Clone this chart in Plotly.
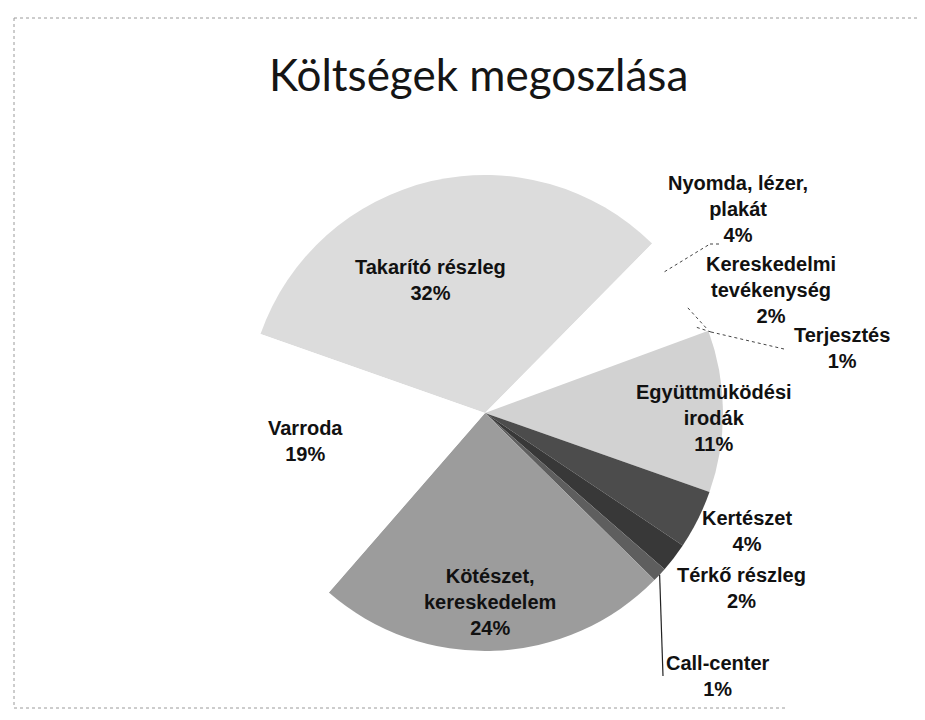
import math
import plotly.graph_objects as go

# ---- data ----
categories = ["Takarító részleg", "Nyomda, lézer, plakát", "Kereskedelmi tevékenység",
              "Terjesztés", "Együttműködési irodák", "Kertészet", "Térkő részleg",
              "Call-center", "Kötészet, kereskedelem", "Varroda"]
label_text = ["Takarító részleg", "Nyomda, lézer,<br>plakát", "Kereskedelmi<br>tevékenység",
              "Terjesztés", "Együttmüködési<br>irodák", "Kertészet", "Térkő részleg",
              "Call-center", "Kötészet,<br>kereskedelem", "Varroda"]
percents = [32, 4, 2, 1, 11, 4, 2, 1, 24, 19]
colors = ["#dcdcdc", "#ffffff", "#ffffff", "#ffffff", "#d2d2d2",
          "#4c4c4c", "#383838", "#5e5e5e", "#9c9c9c", "#ffffff"]
title_text = "Költségek megoszlása"

# ---- layout constants ----
W, H = 925, 720
CX, CY, R = 477, 405, 238
ROTATION = -70.6
# label centres (px)
label_pos = [(422, 272), (730, 201), (763, 282), (834, 340), (706, 410),
             (739, 523), (733, 580), (710, 668), (482, 594), (297, 433)]

def px(x, y):
    return x / W, 1 - y / H

fig = go.Figure(go.Pie(
    labels=categories, values=percents, sort=False, direction="clockwise",
    rotation=ROTATION, textinfo="none", hoverinfo="label+percent",
    marker=dict(colors=colors, line=dict(width=0)),
    domain=dict(x=[(CX - R) / W, (CX + R) / W], y=[(H - CY - R) / H, (H - CY + R) / H]),
    showlegend=False,
))

annotations = []
for txt, p, (lx, ly) in zip(label_text, percents, label_pos):
    ax, ay = px(lx, ly)
    annotations.append(dict(
        x=ax, y=ay, xref="paper", yref="paper", showarrow=False,
        text=f"<b>{txt}<br>{p}%</b>", align="center", xanchor="center", yanchor="middle",
        font=dict(family="Liberation Sans, Arial, sans-serif", size=20, color="#111111"),
    ))
tx, ty = px(470, 66)
annotations.append(dict(x=tx, y=ty, xref="paper", yref="paper", showarrow=False,
                        text=title_text, xanchor="center", yanchor="middle",
                        font=dict(family="Lato, Open Sans, sans-serif", size=44, color="#151515")))

# slice anchor points for leader lines, from data
total = sum(percents)
cum = 0
mid_angles = []
for v in percents:
    mid_angles.append(ROTATION + (cum + v / 2) / total * 360)
    cum += v

def anchor(i, frac=0.96):
    a = math.radians(mid_angles[i])
    return CX + frac * R * math.sin(a), CY - frac * R * math.cos(a)

shapes = []
def seg(pts, dash="dot", color="#444444", width=1):
    for (x0, y0), (x1, y1) in zip(pts[:-1], pts[1:]):
        X0, Y0 = px(x0, y0)
        X1, Y1 = px(x1, y1)
        shapes.append(dict(type="line", xref="paper", yref="paper", x0=X0, y0=Y0, x1=X1, y1=Y1,
                           line=dict(color=color, width=width, dash=dash)))

seg([anchor(1), (702, 236), (713, 236)])
seg([anchor(2), (700, 322)])
seg([anchor(3), (703, 324), (776, 341)])
seg([anchor(7, 1.0), (655, 668)], dash="solid", color="#222222", width=1.2)

# slide frame
frame = "#9a9a9a"
seg([(6, 10), (924, 10)], dash="dot", color=frame)
seg([(6, 10), (6, 700)], dash="dot", color=frame)
seg([(6, 700), (780, 700)], dash="dot", color=frame)
seg([(922, 683), (922, 700)], dash="dot", color=frame)

fig.update_layout(
    width=W, height=H, margin=dict(l=0, r=0, t=0, b=0),
    paper_bgcolor="white", plot_bgcolor="white",
    annotations=annotations, shapes=shapes,
)
fig.write_html("out.html")
